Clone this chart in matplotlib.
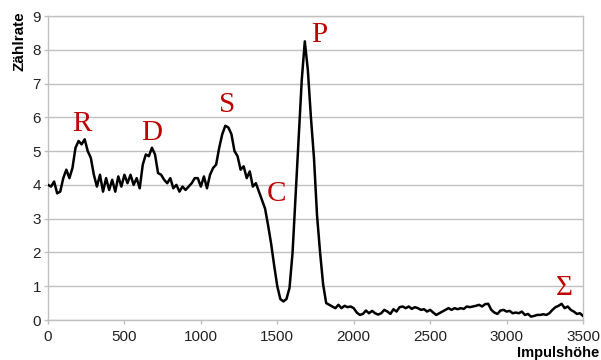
import numpy as np
import matplotlib
matplotlib.use("Agg")
import matplotlib.pyplot as plt

# Data: count rate vs pulse height (channel step 20)
step = 20
counts = [
    4.0, 3.95, 4.1, 3.75, 3.8, 4.2, 4.45, 4.2, 4.5, 5.1,
    5.3, 5.2, 5.35, 5.0, 4.8, 4.3, 3.95, 4.3, 3.8, 4.2,
    3.85, 4.15, 3.8, 4.25, 3.95, 4.3, 4.05, 4.3, 4.0, 4.2,
    3.9, 4.6, 4.9, 4.85, 5.1, 4.9, 4.35, 4.3, 4.15, 4.05,
    4.2, 3.9, 4.0, 3.8, 3.95, 3.85, 3.95, 4.05, 4.2, 4.2,
    3.95, 4.25, 3.9, 4.3, 4.5, 4.6, 5.1, 5.5, 5.75, 5.7,
    5.5, 5.0, 4.85, 4.45, 4.55, 4.2, 4.4, 3.95, 4.05, 3.8,
    3.55, 3.3, 2.8, 2.25, 1.6, 1.0, 0.62, 0.55, 0.62, 0.95,
    2.0, 3.7, 5.4, 7.1, 8.25, 7.4, 6.0, 4.8, 3.1, 2.0,
    1.05, 0.5, 0.45, 0.4, 0.35, 0.45, 0.35, 0.42, 0.38, 0.4,
    0.35, 0.22, 0.15, 0.18, 0.28, 0.2, 0.27, 0.2, 0.16, 0.2,
    0.3, 0.25, 0.18, 0.32, 0.25, 0.38, 0.4, 0.35, 0.4, 0.33,
    0.38, 0.35, 0.3, 0.32, 0.25, 0.3, 0.22, 0.15, 0.2, 0.25,
    0.3, 0.35, 0.3, 0.35, 0.32, 0.35, 0.33, 0.4, 0.38, 0.4,
    0.42, 0.45, 0.4, 0.47, 0.48, 0.3, 0.22, 0.18, 0.28, 0.3,
    0.25, 0.27, 0.2, 0.22, 0.2, 0.25, 0.15, 0.18, 0.1, 0.12,
    0.15, 0.15, 0.17, 0.15, 0.2, 0.3, 0.38, 0.42, 0.48, 0.35,
    0.4, 0.3, 0.25, 0.18, 0.2, 0.12,
]
channels = np.arange(len(counts)) * step

peak_labels = ["R", "D", "S", "P", "C", "\u03a3"]
peak_x = [222, 680, 1171, 1772, 1498, 3381]
peak_y = [5.8, 5.54, 6.36, 8.44, 3.73, 0.95]

x_ticks = [0, 500, 1000, 1500, 2000, 2500, 3000, 3500]
y_ticks = list(range(0, 10))

W, H = 601, 360
fig = plt.figure(figsize=(W / 100, H / 100), dpi=100)
ax = fig.add_axes([48 / W, 40 / H, (583 - 48) / W, (320 - 16) / H])

grid_c = "#c0c0c0"
ax.plot(channels, counts, color="black", lw=1.8, solid_joinstyle="round", zorder=3)

ax.set_xlim(0, 3500)
ax.set_ylim(0, 9)
ax.set_xticks(x_ticks)
ax.set_yticks(y_ticks)
ax.yaxis.grid(True, color=grid_c, lw=1.0)
ax.set_axisbelow(True)
for s in ax.spines.values():
    s.set_color(grid_c)
    s.set_linewidth(1.0)
ax.tick_params(axis="both", length=3, width=1, color=grid_c,
               labelsize=11, labelcolor="#222222")
ax.tick_params(axis="x", pad=4)
ax.tick_params(axis="y", pad=2)
for lab in ax.get_xticklabels() + ax.get_yticklabels():
    lab.set_family("Liberation Sans")

for t, px, py in zip(peak_labels, peak_x, peak_y):
    ax.text(px, py, t, color="#c00000", fontsize=21, family="Liberation Serif",
            ha="center", va="center", zorder=4)

fig.text(20 / W, 1 - 41 / H, "Zählrate", rotation=90, ha="center", va="center",
         fontsize=11, fontweight="bold", family="Liberation Sans")
fig.text(599 / W, 1 - 353 / H, "Impulshöhe", ha="right", va="center",
         fontsize=10.5, fontweight="bold", family="Liberation Sans")

fig.savefig("out.png", dpi=100)
